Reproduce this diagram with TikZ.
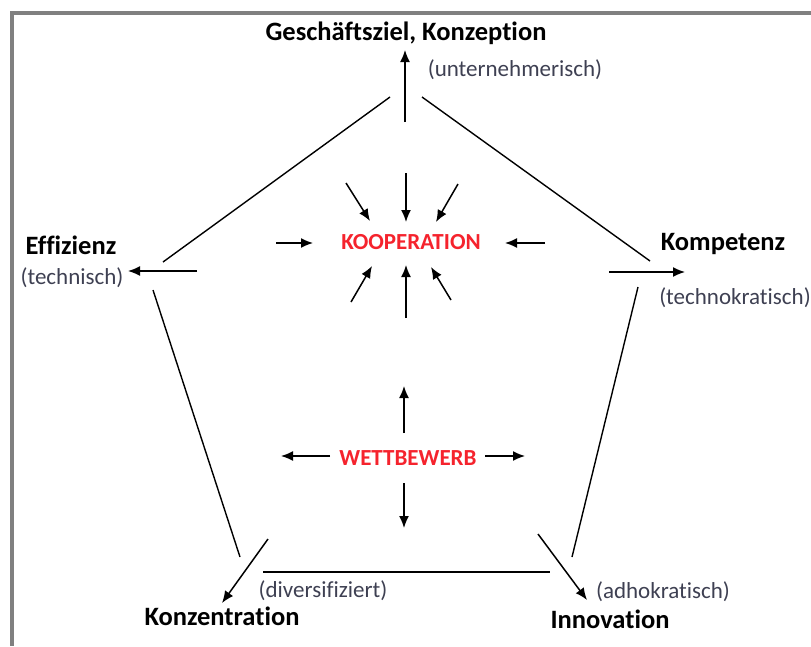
\documentclass[tikz,border=0pt]{standalone}
\usepackage{fontspec}
\setmainfont[Ligatures=NoCommon]{Carlito}
\usetikzlibrary{arrows.meta}
\definecolor{formrot}{RGB}{245,35,45}
\definecolor{artgrau}{RGB}{62,64,82}
\tikzset{
  ziel/.style={font=\bfseries\fontsize{26.5}{30}\selectfont, inner sep=0pt},
  art/.style={text=artgrau, font=\fontsize{23}{26}\selectfont, inner sep=0pt},
  form/.style={text=formrot, font=\bfseries\fontsize{23}{26}\selectfont, inner sep=0pt},
  pfeil/.style={->, line width=1.5pt},
  kante/.style={line width=1.4pt}
}
\begin{document}
\begin{tikzpicture}[>={Latex[length=12pt,width=10pt]}, x=1pt, y=-1pt]
\useasboundingbox (0,0) rectangle (811,646);
\draw[line width=4pt, gray] (10,13) -- (811,13) (12,13) -- (12,646);
% Ziele
\node[ziel] (ziel) at (406,33) {Geschäftsziel, Konzeption};
\node[art] (unt) at (515,70) {(unternehmerisch)};
\node[ziel] (eff) at (71,245) {Effizienz};
\node[art] (tec) at (72,278) {(technisch)};
\node[ziel] (kom) at (723,244) {Kompetenz};
\node[art] (tek) at (735,298) {(technokratisch)};
\node[ziel] (konz) at (222,616) {Konzentration};
\node[art] (div) at (323,591) {(diversifiziert)};
\node[ziel] (inno) at (610,619) {Innovation};
\node[art] (adh) at (663,592) {(adhokratisch)};
\node[form] (koop) at (411,242) {KOOPERATION};
\node[form] (wett) at (408,458) {WETTBEWERB};
% Fuenfeck
\foreach \n/\a/\b in {o1/{390,97}/{163,262}, o2/{422,97}/{650,261},
    l1/{153,290}/{240,557}, r1/{638,287}/{572,557}, u1/{263,572}/{550,572}}
{
    \coordinate (\n-a) at (\a);
    \coordinate (\n-b) at (\b);
    \draw[kante] (\n-a) -- (\n-b);
}
% nach aussen
\foreach \n/\a/\b in {zi/{405,122}/{405,50}, ef/{197,271}/{128,271},
    ko/{609,272}/{685,272}, kz/{268,539}/{222,603}, in/{538,534}/{587,600}}
{
    \coordinate (\n-a) at (\a);
    \coordinate (\n-b) at (\b);
    \draw[pfeil] (\n-a) -- (\n-b);
}
% Kooperation
\foreach \n/\a/\b in {k1/{346,183}/{370,221}, k2/{406,173}/{406,222},
    k3/{458,184}/{436,222}, k4/{276,243}/{313,243}, k5/{545,243}/{505,243},
    k6/{351,302}/{372,266}, k7/{406,318}/{406,265}, k8/{451,300}/{431,267}}
{
    \coordinate (\n-a) at (\a);
    \coordinate (\n-b) at (\b);
    \draw[pfeil] (\n-a) -- (\n-b);
}
% Wettbewerb
\foreach \n/\a/\b in {w1/{404,433}/{404,386}, w2/{330,456}/{281,456},
    w3/{485,456}/{525,456}, w4/{404,483}/{404,528}}
{
    \coordinate (\n-a) at (\a);
    \coordinate (\n-b) at (\b);
    \draw[pfeil] (\n-a) -- (\n-b);
}
\end{tikzpicture}
\end{document}
